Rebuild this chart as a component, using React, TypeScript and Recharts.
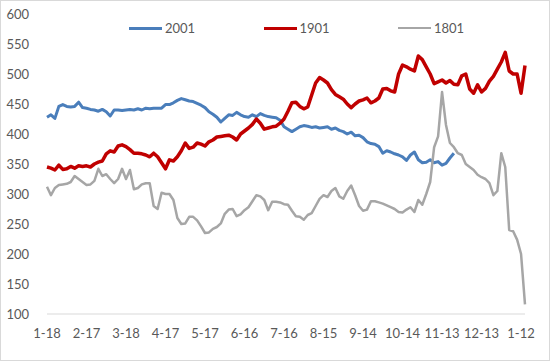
import { LineChart, Line, XAxis, YAxis } from "recharts";

const tickLabels = ["1-18", "2-17", "3-18", "4-17", "5-17", "6-16", "7-16", "8-15", "9-14", "10-14", "11-13", "12-13", "1-12"];

const s2001 = [
  428, 432, 426, 446, 449, 446, 445, 446, 453, 444,
  443, 441, 440, 438, 441, 437, 430, 440, 440, 439,
  440, 441, 440, 442, 440, 443, 442, 443, 443, 443,
  449, 449, 452, 456, 459, 457, 455, 454, 451, 448,
  444, 437, 433, 428, 420, 426, 432, 431, 436, 432,
  429, 428, 432, 429, 434, 431, 429, 428, 427, 423,
  412, 408, 404, 408, 412, 414, 413, 411, 412, 410,
  411, 412, 408, 410, 406, 404, 400, 403, 397, 398,
  394, 387, 384, 383, 379, 368, 372, 370, 367, 365,
  362, 356, 365, 370, 357, 352, 353, 357, 352, 354,
  348, 351, 360, 368,
];

const s1901 = [
  345, 343, 340, 348, 341, 342, 346, 343, 347, 346,
  347, 345, 350, 353, 355, 367, 372, 370, 380, 382,
  379, 374, 368, 368, 367, 365, 362, 368, 362, 352,
  342, 357, 355, 362, 372, 385, 376, 378, 385, 383,
  380, 387, 390, 395, 396, 397, 398, 395, 390, 400,
  405, 410, 416, 425, 418, 408, 410, 412, 413, 418,
  425, 438, 452, 453, 446, 442, 445, 465, 485, 494,
  490, 485, 474, 466, 462, 458, 450, 444, 450, 455,
  457, 460, 452, 455, 460, 475, 476, 472, 470, 500,
  515, 512, 508, 505, 530, 524, 512, 500, 484, 487,
  490, 485, 489, 483, 482, 497, 500, 475, 468, 482,
  470, 476, 488, 496, 508, 520, 536, 505, 500, 500,
  468, 514,
];

const s1801 = [
  312, 298, 310, 315, 316, 317, 320, 330, 325, 320,
  315, 316, 322, 342, 330, 333, 325, 318, 325, 342,
  325, 340, 308, 310, 316, 318, 318, 280, 275, 302,
  300, 300, 290, 260, 250, 251, 262, 262, 256, 246,
  235, 236, 242, 245, 251, 267, 274, 275, 263, 266,
  273, 278, 288, 298, 296, 290, 273, 287, 287, 286,
  283, 282, 272, 263, 262, 257, 265, 268, 280, 292,
  298, 295, 305, 310, 296, 292, 305, 314, 298, 280,
  272, 274, 288, 288, 286, 284, 281, 278, 275, 270,
  269, 274, 278, 270, 290, 282, 300, 320, 378, 396,
  470, 415, 385, 378, 368, 365, 350, 345, 340, 332,
  328, 325, 318, 298, 305, 368, 345, 240, 238, 224,
  200, 116,
];

const data = s1901.map((v, i) => ({
  i,
  s2001: i < s2001.length ? s2001[i] : null,
  s1901: v,
  s1801: s1801[i],
}));

const series = [
  { key: "s2001", name: "2001", color: "#4a7ebb", width: 3 },
  { key: "s1901", name: "1901", color: "#c00000", width: 3.5 },
  { key: "s1801", name: "1801", color: "#a6a6a6", width: 2.5 },
];

const FONT = "Lato, 'Liberation Sans', sans-serif";

export default function App() {
  return (
    <div style={{ position: "absolute", left: 0, top: 0, width: 550, height: 361, background: "#fff" }}>
      <LineChart width={550} height={361} data={data} margin={{ top: 14, right: 25, bottom: 17, left: 0 }}>
        <XAxis
          dataKey="i"
          type="number"
          domain={[0, 121]}
          ticks={[0, 10, 20, 30, 40, 50, 60, 70, 80, 90, 100, 110, 120]}
          tickFormatter={(v: number) => tickLabels[v / 10]}
          interval={0}
          height={30}
          axisLine={{ stroke: "#d9d9d9" }}
          tickLine={false}
          tickSize={0}
          tickMargin={15}
          tick={{ fill: "#595959", fontSize: 13, fontFamily: FONT }}
        />
        <YAxis
          domain={[100, 600]}
          ticks={[100, 150, 200, 250, 300, 350, 400, 450, 500, 550, 600]}
          width={47}
          axisLine={false}
          tickLine={false}
          tickSize={0}
          tickMargin={18}
          tick={{ fill: "#595959", fontSize: 13, fontFamily: FONT }}
        />
        {series.map((s) => (
          <Line
            key={s.key}
            dataKey={s.key}
            name={s.name}
            stroke={s.color}
            strokeWidth={s.width}
            dot={false}
            strokeLinejoin="round"
            isAnimationActive={false}
          />
        ))}
      </LineChart>
      {/* legend drawn outside the chart so it doesn't eat plot height */}
      <div
        style={{
          position: "absolute",
          top: 20,
          left: 129,
          display: "flex",
          fontFamily: FONT,
          fontSize: 13,
          color: "#595959",
          lineHeight: "16px",
        }}
      >
        {series.map((s) => (
          <div key={s.key} style={{ width: 134.5, display: "flex", alignItems: "center" }}>
            <span
              style={{ display: "inline-block", width: 33, height: s.width > 3 ? 3 : s.width, background: s.color, marginRight: 3 }}
            />
            <span>{s.name}</span>
          </div>
        ))}
      </div>
      <div
        style={{
          position: "absolute",
          left: 0,
          top: 0,
          width: 550,
          height: 361,
          boxSizing: "border-box",
          border: "1px solid #d9d9d9",
          pointerEvents: "none",
        }}
      />
    </div>
  );
}
